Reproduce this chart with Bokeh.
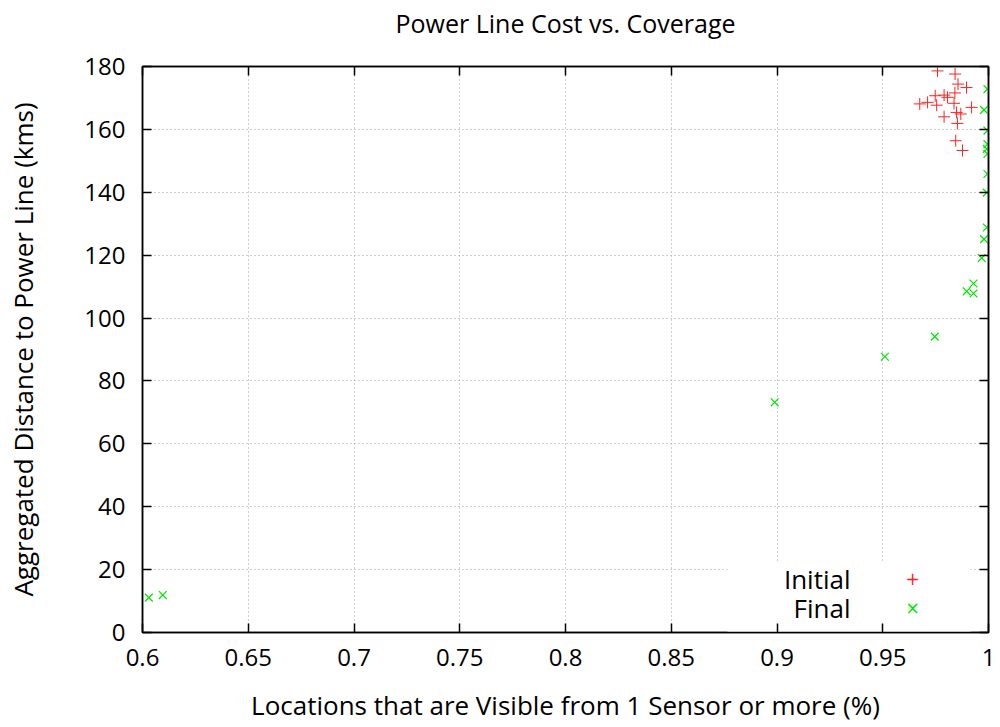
from bokeh.plotting import figure
from bokeh.models import (LinearAxis, FixedTicker, Range1d, Label, BoxAnnotation)
from bokeh.embed import file_html
from bokeh.resources import INLINE

# ---------------- data ----------------
initial_x = [0.9759, 0.9842, 0.9856, 0.9896, 0.9841, 0.9748, 0.9790, 0.9806,
             0.9712, 0.9675, 0.9755, 0.9837, 0.9920, 0.9849, 0.9869, 0.9790,
             0.9853, 0.9845, 0.9877]
initial_y = [178.6, 177.6, 174.4, 173.3, 171.6, 170.7, 170.9, 170.2,
             168.6, 168.1, 167.7, 168.3, 167.0, 165.4, 164.9, 164.0,
             161.9, 156.4, 153.3]

final_x = [0.9995, 0.9979, 0.9995, 0.9995, 0.9992, 0.9995, 0.9995, 0.9992,
           0.9992, 0.9979, 0.9968, 0.9929, 0.9897, 0.9929, 0.9746, 0.9510,
           0.8989, 0.6030, 0.6096]
final_y = [172.8, 166.2, 159.6, 155.3, 153.8, 152.2, 145.8, 139.9,
           128.8, 125.1, 119.1, 111.0, 108.5, 107.8, 94.1, 87.7,
           73.2, 11.1, 11.9]

x_ticks = [0.6, 0.65, 0.7, 0.75, 0.8, 0.85, 0.9, 0.95, 1.0]
x_tick_labels = ["0.6", "0.65", "0.7", "0.75", "0.8", "0.85", "0.9", "0.95", "1"]
y_ticks = [0, 20, 40, 60, 80, 100, 120, 140, 160, 180]

title_text = "Power Line Cost vs. Coverage"
x_label = "Locations that are Visible from 1 Sensor or more (%)"
y_label = "Aggregated Distance to Power Line (kms)"
series_names = ["Initial", "Final"]

# ---------------- style ----------------
FONT = "Open Sans"
TICK_FS = "24px"
LABEL_FS = "26px"
W, H = 996, 725
FL, FR, FT, FB = 142, 988, 66, 632  # frame edges (figure coords)
FW, FH = FR - FL, FB - FT

RED = "#ff2020"
GREEN = "#00e600"

p = figure(width=W, height=H, output_backend="svg", toolbar_location=None,
           x_range=Range1d(0.6, 1.0), y_range=Range1d(0, 180),
           min_border_left=FL, min_border_right=W - FR,
           min_border_top=FT, min_border_bottom=H - FB,
           x_axis_label=x_label, y_axis_label=y_label)

p.background_fill_color = "white"
p.border_fill_color = "white"
p.outline_line_color = "black"
p.outline_line_width = 1.5

xt = FixedTicker(ticks=x_ticks)
yt = FixedTicker(ticks=y_ticks)

for ax in p.xaxis:
    ax.ticker = xt
    ax.major_label_overrides = {t: l for t, l in zip(x_ticks, x_tick_labels)}
for ax in p.yaxis:
    ax.ticker = yt

for ax in list(p.xaxis) + list(p.yaxis):
    ax.major_tick_in = 9
    ax.major_tick_out = 0
    ax.minor_tick_in = 0
    ax.minor_tick_out = 0
    ax.axis_line_color = "black"
    ax.axis_line_width = 1.5
    ax.major_tick_line_width = 1.5
    ax.major_label_text_font = FONT
    ax.major_label_text_font_size = TICK_FS
    ax.major_label_text_color = "black"
    ax.axis_label_text_font = FONT
    ax.axis_label_text_font_size = LABEL_FS
    ax.axis_label_text_font_style = "normal"
    ax.axis_label_text_color = "black"

p.xaxis.major_label_standoff = 16
p.xaxis.axis_label_standoff = 18
p.yaxis.major_label_standoff = 17
p.yaxis.axis_label_standoff = 40

# mirrored inner ticks on top and right (no tick labels); title as top axis label
top_ax = LinearAxis(ticker=FixedTicker(ticks=x_ticks),
                    major_label_overrides={t: "" for t in x_ticks},
                    axis_label=title_text)
right_ax = LinearAxis(ticker=FixedTicker(ticks=y_ticks),
                      major_label_overrides={t: "" for t in y_ticks})
for ax in (top_ax, right_ax):
    ax.major_tick_in = 9
    ax.major_tick_out = 0
    ax.minor_tick_in = 0
    ax.minor_tick_out = 0
    ax.axis_line_color = "black"
    ax.axis_line_width = 1.5
    ax.major_tick_line_width = 1.5
    ax.major_label_standoff = 0
top_ax.axis_label_text_font = FONT
top_ax.axis_label_text_font_size = "25px"
top_ax.axis_label_text_font_style = "normal"
top_ax.axis_label_text_color = "black"
top_ax.axis_label_standoff = 27
p.add_layout(top_ax, "above")
p.add_layout(right_ax, "right")

# grid
for g in (p.xgrid, p.ygrid):
    g.grid_line_color = "#a0a0a0"
    g.grid_line_dash = "1 3"
    g.grid_line_width = 1
p.xgrid.ticker = xt
p.ygrid.ticker = yt

# points
p.scatter(initial_x, initial_y, marker="cross", size=12, line_color=RED,
          line_width=1)
p.scatter(final_x, final_y, marker="x", size=11, line_color=GREEN,
          line_width=1.2)

# legend (gnuplot style: text then sample, white box hiding the grid)
box = BoxAnnotation(left=585, right=828, top=70, bottom=0,
                    left_units="screen", right_units="screen",
                    top_units="screen", bottom_units="screen",
                    fill_color="white", fill_alpha=1.0, line_alpha=0,
                    level="underlay")
p.add_layout(box)

rows = [(series_names[0], "+", RED, FB - 578), (series_names[1], "\u00d7", GREEN, FB - 607)]
for name, sym, col, yc in rows:
    p.add_layout(Label(x=708, y=yc, x_units="screen", y_units="screen",
                       text=name, text_font=FONT, text_font_size=LABEL_FS,
                       text_align="right", text_baseline="middle", text_color="black"))
    p.add_layout(Label(x=770, y=yc, x_units="screen", y_units="screen",
                       text=sym, text_font="DejaVu Sans", text_font_size="17px",
                       text_align="center", text_baseline="middle", text_color=col))

open("out.html", "w").write(file_html(p, INLINE))
